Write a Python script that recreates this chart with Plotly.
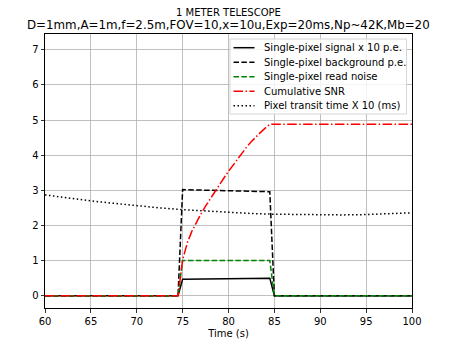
import plotly.graph_objects as go

# ---- data ----
t_box = [60, 74.5, 75, 84.5, 85, 100]
signal_x10 = [0, 0, 0.47, 0.50, 0, 0]
background = [0, 0, 3.02, 2.96, 0, 0]
read_noise = [0, 0, 1.0, 1.0, 0, 0]

t_snr = [60, 74.5, 75, 75.5, 76, 76.5, 77, 77.5, 78, 78.5, 79, 79.5, 80,
         80.5, 81, 81.5, 82, 82.5, 83, 83.5, 84, 84.5, 100]
snr = [0, 0, 1.02, 1.5, 1.83, 2.1, 2.33, 2.55, 2.76, 2.96, 3.15, 3.35, 3.54,
       3.72, 3.9, 4.08, 4.24, 4.39, 4.53, 4.65, 4.77, 4.88, 4.88]

t_transit = [60, 62.5, 65, 67.5, 70, 72.5, 75, 77.5, 80, 82.5, 85, 87.5,
             90, 92.5, 95, 97.5, 100]
transit_x10 = [2.87, 2.78, 2.70, 2.63, 2.56, 2.50, 2.45, 2.41, 2.37, 2.34,
               2.32, 2.31, 2.30, 2.30, 2.31, 2.33, 2.36]

x_ticks = [60, 65, 70, 75, 80, 85, 90, 95, 100]
y_ticks = [0, 1, 2, 3, 4, 5, 6, 7]

series_names = ["Single-pixel signal x 10 p.e.",
                "Single-pixel background p.e.",
                "Single-pixel read noise",
                "Cumulative SNR",
                "Pixel transit time X 10 (ms)"]

suptitle = "1 METER TELESCOPE"
title = "D=1mm,A=1m,f=2.5m,FOV=10,x=10u,Exp=20ms,Np~42K,Mb=20"

FONT = "DejaVu Sans"
LW = 1.5
DASHED = "5.5px,2.4px"
DASHDOT = "9.6px,2.4px,1.5px,2.4px"
DOTTED = "1.5px,2.5px"
styles = [dict(color="black", dash="solid"),
          dict(color="black", dash=DASHED),
          dict(color="#008000", dash=DASHED),
          dict(color="#ff0000", dash=DASHDOT),
          dict(color="black", dash=DOTTED)]
xs = [t_box, t_box, t_box, t_snr, t_transit]
ys = [signal_x10, background, read_noise, snr, transit_x10]

fig = go.Figure()
for name, x, y, st in zip(series_names, xs, ys, styles):
    fig.add_trace(go.Scatter(x=x, y=y, mode="lines", name=name, showlegend=False,
                             hoverinfo="skip",
                             line=dict(color=st["color"], width=LW, dash=st["dash"])))

axis_common = dict(showline=True, mirror=True, linecolor="black", linewidth=1,
                   ticks="outside", ticklen=3.5, tickwidth=0.8, tickcolor="black",
                   showgrid=True, gridcolor="#b0b0b0", gridwidth=0.8,
                   zeroline=False, automargin=False,
                   tickfont=dict(family=FONT, size=10, color="black"))

fig.update_xaxes(range=[60, 100], tickvals=x_ticks,
                 title=dict(text="Time (s)", font=dict(family=FONT, size=10, color="black"),
                            standoff=4),
                 **axis_common)
fig.update_yaxes(range=[-0.35, 7.45], tickvals=y_ticks, **axis_common)

# ---- legend drawn as a boxed panel (paper coordinates of plot area) ----
PL, PR, PT, PB = 45, 412, 34, 308
def px_x(p):
    return (p - PL) / (PR - PL)
def px_y(p):
    return (PB - p) / (PB - PT)

shapes = [dict(type="rect", xref="paper", yref="paper",
               x0=px_x(230), x1=px_x(406.5), y0=px_y(114), y1=px_y(39),
               fillcolor="rgba(255,255,255,0.8)", line=dict(color="#d6d6d6", width=1),
               layer="above")]
annotations = []
row_y = [47.7, 62.2, 76.7, 91.2, 105.7]
for name, st, ry in zip(series_names, styles, row_y):
    shapes.append(dict(type="line", xref="paper", yref="paper",
                       x0=px_x(233.5), x1=px_x(254.5), y0=px_y(ry), y1=px_y(ry),
                       line=dict(color=st["color"], width=LW, dash=st["dash"]),
                       layer="above"))
    annotations.append(dict(text=name, xref="paper", yref="paper",
                            x=px_x(261.5), y=px_y(ry), xanchor="left", yanchor="middle",
                            showarrow=False,
                            font=dict(family=FONT, size=10, color="black")))

annotations.append(dict(text=suptitle, x=0.5, y=1, xref="paper", yref="paper",
                        xanchor="center", yanchor="middle", yshift=22,
                        showarrow=False, font=dict(family=FONT, size=10, color="black")))
annotations.append(dict(text=title, x=0.5, y=1, xref="paper", yref="paper",
                        xanchor="center", yanchor="middle", yshift=9.5,
                        showarrow=False, font=dict(family=FONT, size=11.85, color="black")))

fig.update_layout(
    width=458, height=343,
    margin=dict(l=PL, r=458 - PR, t=PT, b=343 - PB, pad=0),
    paper_bgcolor="white", plot_bgcolor="white",
    font=dict(family=FONT, size=10, color="black"),
    showlegend=False,
    hovermode=False,
    shapes=shapes,
    annotations=annotations,
)

fig.write_html("out.html",
               config={"displayModeBar": False, "staticPlot": True},
               post_script="document.body.style.margin='0';document.body.style.overflow='hidden';")
